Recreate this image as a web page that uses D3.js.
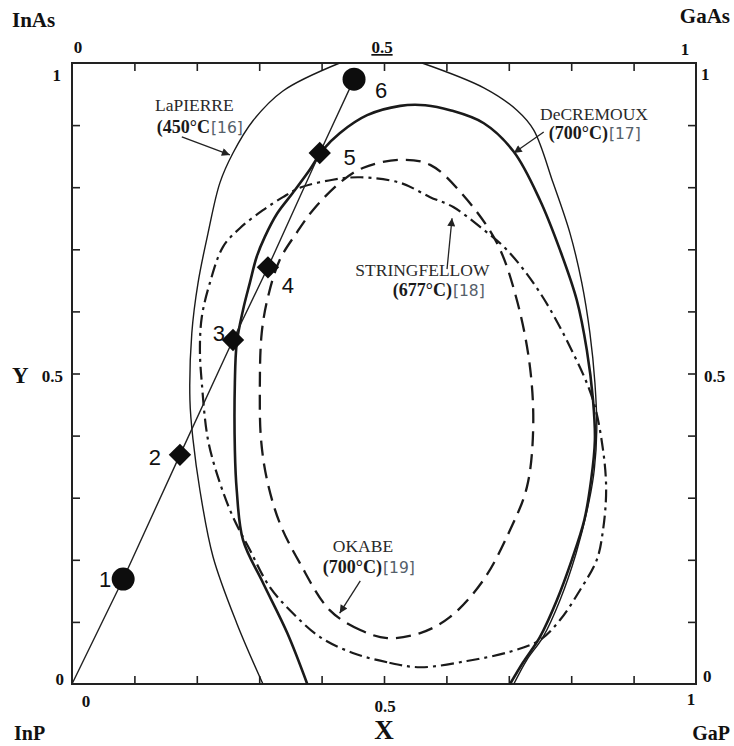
<!doctype html>
<html lang="en">
<head>
<meta charset="UTF-8">
<title>InGaAsP miscibility gap</title>
<style>
  body { margin: 0; background: #fff; }
  svg { display: block; }
  .serif { font-family: "Liberation Serif", "DejaVu Serif", serif; }
  .num { font-family: "Liberation Sans", Arial, sans-serif; font-size: 22px; fill: #111; }
  .tick line { stroke: #222; stroke-width: 1.6; }
  .tick text { display: none; }
</style>
</head>
<body>
<div id="chart"></div>
<script src="https://d3js.org/d3.v7.min.js"></script>
<script>
// composition X (InP -> GaP) and Y (InP -> InAs)
const lapierreLeft = [
  [0.306, 0], [0.264, 0.098], [0.226, 0.205], [0.205, 0.312], [0.194, 0.393],
  [0.189, 0.457], [0.192, 0.565], [0.202, 0.646], [0.218, 0.726], [0.237, 0.807],
  [0.258, 0.855], [0.290, 0.907], [0.338, 0.955], [0.429, 1.0]
]
const lapierreRight = [
  [0.561, 1.0], [0.660, 0.960], [0.713, 0.924], [0.740, 0.892], [0.771, 0.807],
  [0.798, 0.726], [0.817, 0.646], [0.830, 0.565], [0.838, 0.485], [0.841, 0.409],
  [0.837, 0.345], [0.829, 0.296], [0.808, 0.211], [0.782, 0.135], [0.755, 0.076],
  [0.729, 0.039], [0.708, 0]
]
const decremoux = [
  [0.377, 0], [0.345, 0.082], [0.306, 0.163], [0.274, 0.232], [0.264, 0.312],
  [0.261, 0.377], [0.261, 0.485], [0.264, 0.549], [0.274, 0.602], [0.285, 0.646],
  [0.296, 0.688], [0.309, 0.720], [0.329, 0.758], [0.354, 0.791], [0.381, 0.828],
  [0.402, 0.860], [0.429, 0.887], [0.473, 0.916], [0.526, 0.931], [0.566, 0.932],
  [0.606, 0.924], [0.660, 0.903], [0.708, 0.857], [0.750, 0.779], [0.782, 0.699],
  [0.809, 0.618], [0.825, 0.538], [0.835, 0.457], [0.838, 0.393], [0.832, 0.329],
  [0.821, 0.264], [0.801, 0.200], [0.777, 0.135], [0.750, 0.076], [0.723, 0.035],
  [0.702, 0]
]
const okabe = [
  [0.505, 0.074], [0.462, 0.087], [0.413, 0.119], [0.365, 0.195], [0.333, 0.259],
  [0.3125, 0.329], [0.303, 0.393], [0.301, 0.473], [0.304, 0.565], [0.314, 0.623],
  [0.333, 0.683], [0.361, 0.728], [0.386, 0.763], [0.429, 0.807], [0.466, 0.831],
  [0.526, 0.844], [0.574, 0.836], [0.627, 0.787], [0.681, 0.710], [0.713, 0.618],
  [0.734, 0.510], [0.739, 0.409], [0.729, 0.317], [0.702, 0.248], [0.659, 0.167],
  [0.606, 0.108], [0.558, 0.082]
]
const stringfellow = [
  [0.558, 0.027], [0.505, 0.035], [0.450, 0.050], [0.397, 0.076], [0.354, 0.114],
  [0.317, 0.156], [0.285, 0.216], [0.258, 0.269], [0.237, 0.324], [0.218, 0.393],
  [0.208, 0.485], [0.205, 0.538], [0.208, 0.591], [0.221, 0.646], [0.242, 0.704],
  [0.269, 0.734], [0.306, 0.763], [0.338, 0.784], [0.365, 0.799], [0.418, 0.812],
  [0.462, 0.816], [0.526, 0.807], [0.574, 0.784], [0.611, 0.768], [0.654, 0.736],
  [0.697, 0.699], [0.750, 0.630], [0.803, 0.533], [0.835, 0.457], [0.851, 0.377],
  [0.856, 0.312], [0.851, 0.248], [0.841, 0.200], [0.814, 0.151], [0.782, 0.103],
  [0.750, 0.071], [0.702, 0.052], [0.633, 0.037]
]

// samples along the growth path, starting at InP
const pathStart = [0, 0]
const sampleIds = [1, 2, 3, 4, 5, 6]
const sampleX = [0.082, 0.173, 0.258, 0.314, 0.397, 0.452]
const sampleY = [0.169, 0.369, 0.554, 0.671, 0.855, 0.974]
const sampleShape = ['circle', 'diamond', 'diamond', 'diamond', 'diamond', 'circle']

const curveNames = ['LaPIERRE', 'DeCREMOUX', 'STRINGFELLOW', 'OKABE']
const curveTemps = ['(450°C', '(700°C)', '(677°C)', '(700°C)']
const curveRefs = ['[16]', '[17]', '[18]', '[19]']

const tickValues = [0.1, 0.2, 0.3, 0.4, 0.5, 0.6, 0.7, 0.8, 0.9]
const tickLabels = ['0', '0.5', '1']

const width = 734
const height = 746

const x = d3.scaleLinear().domain([0, 1]).range([72, 696])
const y = d3.scaleLinear().domain([0, 1]).range([684, 63])

const svg = d3.select('#chart')
  .append('svg')
  .attr('width', width)
  .attr('height', height)

const defs = svg.append('defs')
defs.append('marker')
  .attr('id', 'head')
  .attr('viewBox', '0 0 10 10')
  .attr('refX', 10)
  .attr('refY', 5)
  .attr('markerWidth', 11)
  .attr('markerHeight', 8)
  .attr('markerUnits', 'userSpaceOnUse')
  .attr('orient', 'auto')
  .append('path')
  .attr('d', 'M0,0 L10,5 L0,10 Z')
  .attr('fill', '#222')

// inward ticks on all four sides
svg.append('g').attr('transform', `translate(0,${y(0)})`)
  .call(d3.axisTop(x).tickValues(tickValues).tickSize(8).tickFormat(''))
svg.append('g').attr('transform', `translate(0,${y(1)})`)
  .call(d3.axisBottom(x).tickValues(tickValues).tickSize(8).tickFormat(''))
svg.append('g').attr('transform', `translate(${x(0)},0)`)
  .call(d3.axisRight(y).tickValues(tickValues).tickSize(8).tickFormat(''))
svg.append('g').attr('transform', `translate(${x(1)},0)`)
  .call(d3.axisLeft(y).tickValues(tickValues).tickSize(8).tickFormat(''))
svg.selectAll('.domain').remove()

svg.append('rect')
  .attr('x', x(0))
  .attr('y', y(1))
  .attr('width', x(1) - x(0))
  .attr('height', y(0) - y(1))
  .attr('fill', 'none')
  .attr('stroke', '#222')
  .attr('stroke-width', 2)

const open = d3.line().x(d => x(d[0])).y(d => y(d[1])).curve(d3.curveCatmullRom.alpha(0.5))
const closed = d3.line().x(d => x(d[0])).y(d => y(d[1])).curve(d3.curveCatmullRomClosed.alpha(0.5))

const curves = svg.append('g').attr('fill', 'none').attr('stroke', '#1a1a1a')

curves.append('path').attr('d', open(lapierreLeft)).attr('stroke-width', 1.4)
curves.append('path').attr('d', open(lapierreRight)).attr('stroke-width', 1.4)
curves.append('path').attr('d', open(decremoux)).attr('stroke-width', 2.6)
curves.append('path').attr('d', closed(okabe))
  .attr('stroke-width', 2.3)
  .attr('stroke-dasharray', '15,8')
curves.append('path').attr('d', closed(stringfellow))
  .attr('stroke-width', 2.2)
  .attr('stroke-dasharray', '13,5,3,5')

// growth path
const samples = sampleIds.map((n, i) => ({ n, X: sampleX[i], Y: sampleY[i], shape: sampleShape[i] }))

svg.append('path')
  .attr('d', d3.line().x(d => x(d[0])).y(d => y(d[1]))([pathStart, ...samples.map(d => [d.X, d.Y])]))
  .attr('fill', 'none')
  .attr('stroke', '#222')
  .attr('stroke-width', 1.4)

svg.selectAll('.sample')
  .data(samples)
  .enter()
  .append('path')
  .attr('class', 'sample')
  .attr('d', d => d.shape === 'circle'
    ? d3.symbol(d3.symbolCircle, Math.PI * 11.5 * 11.5)()
    : d3.symbol(d3.symbolSquare, 250)())
  .attr('transform', d => `translate(${x(d.X)},${y(d.Y)}) rotate(${d.shape === 'circle' ? 0 : 45})`)
  .attr('fill', '#0d0d0d')

const numOffset = { 1: [-18, 8], 2: [-25, 10], 3: [-14, 1], 4: [20, 26], 5: [30, 12], 6: [27, 19] }
svg.selectAll('.num')
  .data(samples)
  .enter()
  .append('text')
  .attr('class', 'num')
  .attr('x', d => x(d.X) + numOffset[d.n][0])
  .attr('y', d => y(d.Y) + numOffset[d.n][1])
  .attr('text-anchor', 'middle')
  .text(d => d.n)

// curve labels: name line, then temperature line with the reference after it
const namePos = [[0.133, 0.923], [0.750, 0.909], [0.454, 0.657], [0.418, 0.213]]
const tempPos = [[0.136, 0.888], [0.764, 0.877], [0.514, 0.624], [0.402, 0.178]]
curveNames.forEach((name, i) => {
  svg.append('text')
    .attr('class', 'serif')
    .attr('x', x(namePos[i][0]))
    .attr('y', y(namePos[i][1]))
    .style('font-size', '17.5px')
    .attr('fill', '#2a2a2a')
    .text(name)
  const temp = svg.append('text')
    .attr('class', 'serif')
    .attr('x', x(tempPos[i][0]))
    .attr('y', y(tempPos[i][1]))
    .attr('font-weight', 'bold')
    .style('font-size', '18px')
    .attr('fill', '#1a1a1a')
    .text(curveTemps[i])
  const w = temp.node().getComputedTextLength()
  svg.append('text')
    .attr('x', x(tempPos[i][0]) + w + 1)
    .attr('y', y(tempPos[i][1]))
    .style('font-family', '"DejaVu Sans", sans-serif')
    .style('font-size', '15.5px')
    .attr('fill', '#55606a')
    .text(curveRefs[i])
})

const arrows = [
  [[0.176, 0.881], [0.253, 0.852]],
  [[0.756, 0.889], [0.708, 0.855]],
  [[0.601, 0.668], [0.609, 0.750]],
  [[0.462, 0.166], [0.429, 0.114]]
]
svg.selectAll('.arrow')
  .data(arrows)
  .enter()
  .append('line')
  .attr('class', 'arrow')
  .attr('x1', d => x(d[0][0]))
  .attr('y1', d => y(d[0][1]))
  .attr('x2', d => x(d[1][0]))
  .attr('y2', d => y(d[1][1]))
  .attr('stroke', '#222')
  .attr('stroke-width', 1.3)
  .attr('marker-end', 'url(#head)')

// tick labels and corner compounds
const lab = (tx, ty, s, size, anchor) => svg.append('text')
  .attr('class', 'serif')
  .attr('x', tx)
  .attr('y', ty)
  .attr('text-anchor', anchor || 'middle')
  .attr('font-weight', 'bold')
  .style('font-size', size + 'px')
  .attr('fill', '#111')
  .text(s)

// top
lab(x(0) + 6, 53, tickLabels[0], 17)
lab(x(0.5) - 2, 53, tickLabels[1], 17).style('text-decoration', 'underline')
lab(x(1) - 11, 55, tickLabels[2], 17)
// bottom
lab(x(0) + 14, 707, tickLabels[0], 17)
lab(x(0.5) + 1, 712, tickLabels[1], 17)
lab(x(1) - 5, 705, tickLabels[2], 17)
// left
lab(61, y(1) + 18, tickLabels[2], 17, 'end')
lab(63, y(0.5) + 8, tickLabels[1], 17, 'end')
lab(64, y(0) + 1, tickLabels[0], 17, 'end')
lab(12, y(0.5) + 9, 'Y', 23, 'start')
// right
lab(701, y(1) + 17, tickLabels[2], 17, 'start')
lab(704, y(0.5) + 8, tickLabels[1], 17, 'start')
lab(703, y(0) - 2, tickLabels[0], 17, 'start')

lab(384, 739, 'X', 27)
lab(12, 27, 'InAs', 21, 'start')
lab(730, 23, 'GaAs', 21, 'end')
lab(14, 740, 'InP', 20, 'start')
lab(730, 740, 'GaP', 20, 'end')
</script>
</body>
</html>
